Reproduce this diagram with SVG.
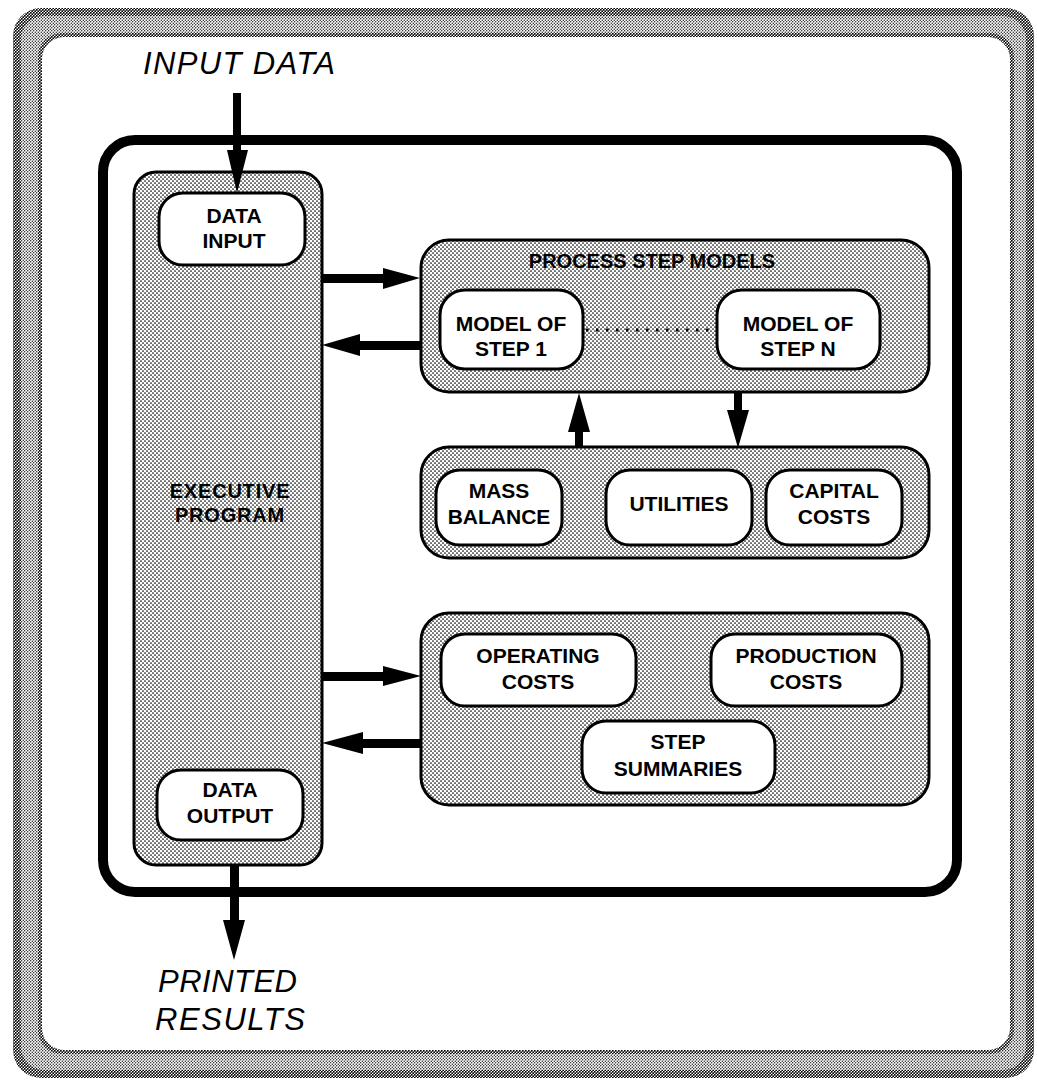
<svg xmlns="http://www.w3.org/2000/svg" width="1037" height="1080" viewBox="0 0 1037 1080">
<defs>
<pattern id="dots" width="4" height="4" patternUnits="userSpaceOnUse">
<rect width="4" height="4" fill="#ffffff"/>
<circle cx="1" cy="1" r="0.85" fill="#000"/>
<circle cx="3" cy="3" r="0.85" fill="#000"/>
</pattern>
<pattern id="dense" width="3" height="3" patternUnits="userSpaceOnUse">
<rect width="3" height="3" fill="#ffffff"/>
<circle cx="0.75" cy="0.75" r="0.95" fill="#000"/>
<circle cx="2.25" cy="2.25" r="0.95" fill="#000"/>
</pattern>
<pattern id="light" width="3" height="3" patternUnits="userSpaceOnUse">
<rect width="3" height="3" fill="#ffffff"/>
<circle cx="0.75" cy="0.75" r="0.65" fill="#000"/>
<circle cx="2.25" cy="2.25" r="0.65" fill="#000"/>
</pattern>
</defs>
<style>
.shaded{fill:url(#dots);stroke:#000;stroke-width:3}
.white{fill:#fff;stroke:#000;stroke-width:3}
.lbl{font-family:"Liberation Sans",Arial,sans-serif;font-weight:bold;font-size:21px;text-anchor:middle;fill:#000}
.big{font-family:"Liberation Sans",Arial,sans-serif;font-style:italic;font-size:31px;fill:#000}
.arrow{fill:#000;stroke:none}
</style>
<rect width="1037" height="1080" fill="#fff"/>
<g id="outer-frame">
<rect x="13" y="8" width="1021" height="1070" rx="28" fill="url(#dense)"/>
<rect x="21" y="16" width="1005" height="1054" rx="23" fill="url(#light)"/>
<rect x="38" y="33" width="976" height="1021" rx="24" fill="url(#dense)"/>
<rect x="42" y="37" width="968" height="1013" rx="22" fill="#fff"/>
</g>
<g id="system-frame">
<rect x="103" y="140" width="854" height="752" rx="32" fill="none" stroke="#000" stroke-width="10"/>
</g>
<g id="input-data">
<text class="big" x="143" y="74" textLength="192">INPUT DATA</text>
</g>
<g id="printed-results">
<text class="big" x="158" y="992" textLength="139">PRINTED</text>
<text class="big" x="155" y="1030" textLength="150">RESULTS</text>
</g>
<g id="executive-program">
<rect class="shaded" x="134" y="172" width="188" height="693" rx="22"/>
<text class="lbl" x="230" y="498" style="font-size:20px;letter-spacing:0.8px">EXECUTIVE</text>
<text class="lbl" x="230" y="522" style="font-size:20px;letter-spacing:0.8px">PROGRAM</text>
</g>
<g id="data-input">
<rect class="white" x="159" y="193" width="146" height="72" rx="24"/>
<text class="lbl" x="234" y="223">DATA</text>
<text class="lbl" x="234" y="248">INPUT</text>
</g>
<g id="data-output">
<rect class="white" x="157" y="770" width="146" height="70" rx="24"/>
<text class="lbl" x="230" y="797">DATA</text>
<text class="lbl" x="230" y="823">OUTPUT</text>
</g>
<g id="process-step-models">
<rect class="shaded" x="421" y="240" width="508" height="152" rx="28"/>
<text class="lbl" x="652" y="268" style="font-size:20px">PROCESS STEP MODELS</text>
</g>
<g id="model-step-1">
<rect class="white" x="440" y="290" width="143" height="79" rx="25"/>
<text class="lbl" x="511" y="331">MODEL OF</text>
<text class="lbl" x="511" y="356">STEP 1</text>
</g>
<g id="model-step-n">
<rect class="white" x="717" y="290" width="163" height="79" rx="25"/>
<text class="lbl" x="798" y="331">MODEL OF</text>
<text class="lbl" x="798" y="356">STEP N</text>
</g>
<g id="cost-models">
<rect class="shaded" x="421" y="447" width="508" height="111" rx="28"/>
</g>
<g id="mass-balance">
<rect class="white" x="436" y="470" width="126" height="75" rx="24"/>
<text class="lbl" x="499" y="498">MASS</text>
<text class="lbl" x="499" y="524">BALANCE</text>
</g>
<g id="utilities">
<rect class="white" x="606" y="470" width="146" height="75" rx="24"/>
<text class="lbl" x="679" y="511">UTILITIES</text>
</g>
<g id="capital-costs">
<rect class="white" x="766" y="470" width="136" height="75" rx="24"/>
<text class="lbl" x="834" y="498">CAPITAL</text>
<text class="lbl" x="834" y="524">COSTS</text>
</g>
<g id="summary-models">
<rect class="shaded" x="421" y="613" width="508" height="192" rx="28"/>
</g>
<g id="operating-costs">
<rect class="white" x="441" y="634" width="195" height="72" rx="24"/>
<text class="lbl" x="538" y="663">OPERATING</text>
<text class="lbl" x="538" y="689">COSTS</text>
</g>
<g id="production-costs">
<rect class="white" x="711" y="634" width="191" height="72" rx="24"/>
<text class="lbl" x="806" y="663">PRODUCTION</text>
<text class="lbl" x="806" y="689">COSTS</text>
</g>
<g id="step-summaries">
<rect class="white" x="582" y="721" width="193" height="72" rx="24"/>
<text class="lbl" x="678" y="749">STEP</text>
<text class="lbl" x="678" y="776">SUMMARIES</text>
</g>
<g id="connectors">
<path class="arrow" d="M233,93 H241 V150 H248 L237,193 L227,150 H233 Z"/>
<path class="arrow" d="M230,865 H239 V920 H245 L234,960 L223,920 H230 Z"/>
<path class="arrow" d="M322,274 H383 V268 L420,278 L383,289 V283 H322 Z"/>
<path class="arrow" d="M421,341 H360 V334 L322,345 L360,356 V350 H421 Z"/>
<path class="arrow" d="M322,672 H383 V666 L421,676 L383,686 V681 H322 Z"/>
<path class="arrow" d="M421,739 H363 V732 L322,743 L363,754 V748 H421 Z"/>
<path class="arrow" d="M575,447 V432 H568 L579,393 L590,432 H583 V447 Z"/>
<path class="arrow" d="M734,392 V410 H727 L738,448 L749,410 H742 V392 Z"/>
<line x1="586" y1="330" x2="714" y2="330" stroke="#000" stroke-width="3" stroke-dasharray="2.5 7.5"/>
</g>
</svg>
